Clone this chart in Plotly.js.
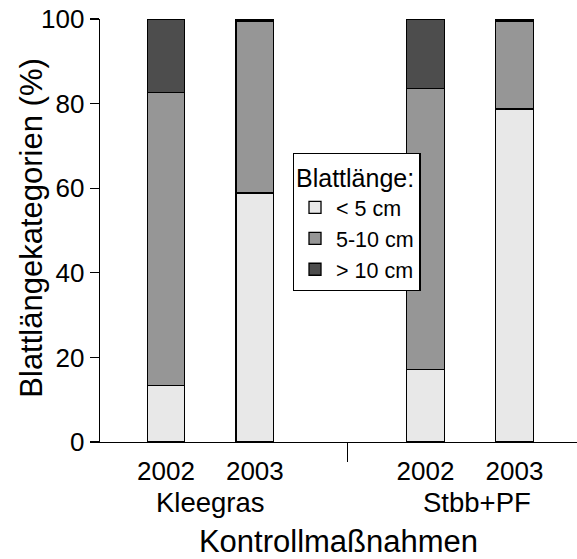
<!DOCTYPE html>
<html>
<head>
<meta charset="utf-8">
<script src="https://cdn.plot.ly/plotly-3.0.1.min.js"></script>
<style>html,body{margin:0;padding:0;background:#fff}#chart{width:577px;height:559px}</style>
</head>
<body>
<div id="chart"></div>
<script>
// ---- data ----
const groups = ["Kleegras", "Stbb+PF"];
const years = ["2002", "2003"];
const seriesNames = ["< 5 cm", "5-10 cm", "> 10 cm"];
const under5 = [13.4, 58.9, 17.2, 78.7];
const from5to10 = [69.3, 40.6, 66.4, 20.8];
const over10 = [17.3, 0.5, 16.4, 0.5];
const legendTitle = "Blattlänge:";
const yTitle = "Blattlängekategorien (%)";
const xTitle = "Kontrollmaßnahmen";
const yTicks = [0, 20, 40, 60, 80, 100];

// ---- layout helpers ----
const groupStep = 2.92;
const pos = [];
const tickText = [];
groups.forEach((g, gi) => years.forEach((yr, yi) => { pos.push(gi * groupStep + yi); tickText.push(yr); }));
const dividerPos = 2.04;

const colors = ["#e8e8e8", "#969696", "#4d4d4d"];
const values = [under5, from5to10, over10];
const font = "'Liberation Sans', Arial, sans-serif";

const traces = values.map((v, i) => ({
  type: "bar",
  x: pos,
  y: v,
  name: seriesNames[i],
  width: 0.4225,
  marker: { color: colors[i], line: { color: "#000", width: 1.3 } },
  hoverinfo: "skip"
}));

const annotations = groups.map((g, gi) => ({
  text: g, xref: "x", yref: "paper",
  x: gi * groupStep + 0.5 + gi * 0.08, y: 0, yshift: -60,
  showarrow: false, yanchor: "middle", xanchor: "center",
  font: { family: font, size: 27.5, color: "#000" }
}));
annotations.push({
  text: yTitle, xref: "paper", yref: "paper",
  x: -0.1455, y: 0.5057, textangle: -90,
  showarrow: false, xanchor: "center", yanchor: "middle",
  font: { family: font, size: 31, color: "#000" }
});

const layout = {
  width: 577, height: 559,
  margin: { l: 99.5, r: 0, t: 19.3, b: 116.5 },
  paper_bgcolor: "#fff", plot_bgcolor: "#fff",
  barmode: "stack",
  font: { family: font, color: "#000" },
  showlegend: true,
  legend: {
    x: 0.404, y: 0.683, xanchor: "left", yanchor: "top",
    bgcolor: "#fff", bordercolor: "#000", borderwidth: 1.3,
    traceorder: "normal",
    title: { text: legendTitle, font: { family: font, size: 25, color: "#000" } },
    font: { family: font, size: 21.5, color: "#000" },
    itemwidth: 32
  },
  xaxis: {
    range: [-0.742, 4.624],
    tickmode: "array", tickvals: pos, ticktext: tickText,
    ticks: "", showgrid: false, zeroline: false,
    showline: true, linecolor: "#000", linewidth: 1.3,
    tickfont: { family: font, size: 26, color: "#000" },
    ticklabelstandoff: 5,
    minor: { tickmode: "array", tickvals: [dividerPos], ticks: "outside", ticklen: 19, tickwidth: 1.3, tickcolor: "#000", showgrid: false },
    title: { text: xTitle, font: { family: font, size: 31, color: "#000" }, standoff: 63 },
    fixedrange: true
  },
  yaxis: {
    range: [0, 100],
    tickmode: "array", tickvals: yTicks,
    ticks: "outside", ticklen: 9, tickwidth: 1.3, tickcolor: "#000",
    showgrid: false, zeroline: false,
    showline: true, linecolor: "#000", linewidth: 1.3,
    tickfont: { family: font, size: 26, color: "#000" },
    fixedrange: true
  },
  annotations: annotations
};

Plotly.newPlot("chart", traces, layout, { staticPlot: true });
</script>
</body>
</html>
